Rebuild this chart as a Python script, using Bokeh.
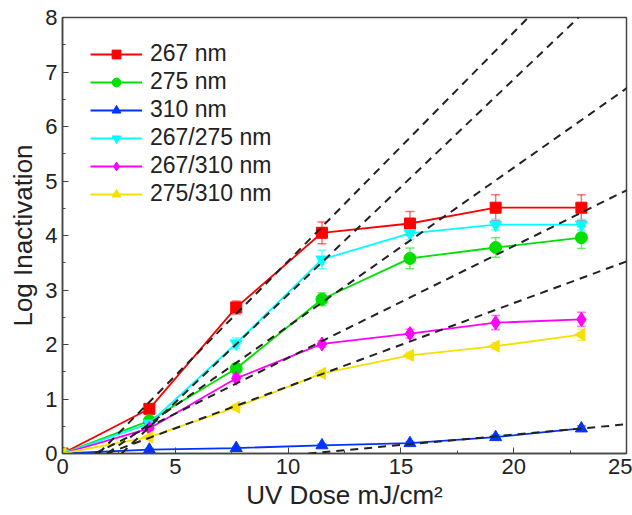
import numpy as np
from bokeh.plotting import figure
from bokeh.models import (Range1d, Slope, Whisker, ColumnDataSource, Legend,
                          LegendItem, TeeHead, FixedTicker)
from bokeh.embed import file_html
from bokeh.resources import INLINE

# ---------------- data ----------------
dose = [0, 3.85, 7.7, 11.5, 15.4, 19.2, 23.0]

labels = ["267 nm", "275 nm", "310 nm", "267/275 nm", "267/310 nm", "275/310 nm"]

li_267 = [0, 0.82, 2.68, 4.05, 4.22, 4.51, 4.51]
li_275 = [0, 0.60, 1.56, 2.83, 3.58, 3.78, 3.96]
li_310 = [0, 0.07, 0.10, 0.15, 0.19, 0.30, 0.46]
li_267_275 = [0, 0.55, 2.02, 3.56, 4.04, 4.20, 4.20]
li_267_310 = [0, 0.46, 1.38, 2.01, 2.20, 2.40, 2.46]
li_275_310 = [0, 0.30, 0.85, 1.47, 1.80, 1.97, 2.18]

err_267 = [0, 0.05, 0.12, 0.20, 0.22, 0.24, 0.24]
err_275 = [0, 0.05, 0.08, 0.12, 0.19, 0.18, 0.20]
err_310 = [0, 0.02, 0.02, 0.03, 0.03, 0.04, 0.05]
err_267_275 = [0, 0.05, 0.10, 0.17, 0.12, 0.10, 0.10]
err_267_310 = [0, 0.04, 0.06, 0.06, 0.08, 0.13, 0.13]
err_275_310 = [0, 0.03, 0.05, 0.05, 0.06, 0.06, 0.10]

# linear fits (slope, x-intercept) drawn as dashed lines
fit_slope = [0.42, 0.291, 0.038, 0.395, 0.205, 0.153]
fit_x0 = [1.60, 1.98, 10.9, 2.62, 1.44, 1.97]

colors = ["#FF0000", "#00E000", "#0033FF", "#00FFFF", "#FF00FF", "#F5E000"]
markers = ["square", "circle", "triangle", "inverted_triangle", "diamond", "triangle"]
angles = [0.0, 0.0, 0.0, 0.0, 0.0, float(np.pi / 2)]
sizes = [11, 12, 12, 12, 14, 12]

values = [li_267, li_275, li_310, li_267_275, li_267_310, li_275_310]
errors = [err_267, err_275, err_310, err_267_275, err_267_310, err_275_310]

FONT = "Liberation Sans"

p = figure(width=632, height=515, output_backend="svg", toolbar_location=None,
           x_range=Range1d(0, 25), y_range=Range1d(0, 8),
           min_border_left=62, min_border_right=6, min_border_top=17,
           min_border_bottom=62)
p.grid.visible = False
p.outline_line_color = "#444444"
p.outline_line_width = 1.5
p.background_fill_color = "white"
p.border_fill_color = "white"

p.xaxis.ticker = FixedTicker(ticks=[0, 5, 10, 15, 20, 25],
                             minor_ticks=list(np.arange(0, 25.01, 2.5)))
p.yaxis.ticker = FixedTicker(ticks=list(range(0, 9)),
                             minor_ticks=list(np.arange(0, 8.01, 0.5)))
for ax in (p.xaxis[0], p.yaxis[0]):
    ax.major_tick_in = 6
    ax.major_tick_out = 0
    ax.minor_tick_in = 3
    ax.minor_tick_out = 0
    ax.axis_line_color = "#444444"
    ax.axis_line_width = 1.5
    ax.major_tick_line_color = "#444444"
    ax.minor_tick_line_color = "#444444"
    ax.major_label_text_font = FONT
    ax.major_label_text_font_size = "22px"
    ax.major_label_text_color = "#222222"
    ax.axis_label_text_font = FONT
    ax.axis_label_text_font_size = "26px"
    ax.axis_label_text_font_style = "normal"
    ax.axis_label_text_color = "#222222"
    ax.major_label_standoff = 5

p.xaxis.axis_label = "UV Dose mJ/cm\u00b2"
p.yaxis.axis_label = "Log Inactivation"
p.xaxis.axis_label_standoff = 3
p.yaxis.axis_label_standoff = 4

items = []
for lab, vals, errs, col, mk, ang, sz in zip(labels, values, errors, colors,
                                             markers, angles, sizes):
    upper = [v + e for v, e in zip(vals, errs)]
    lower = [v - e for v, e in zip(vals, errs)]
    src = ColumnDataSource(dict(x=dose, y=vals, upper=upper, lower=lower,
                                ang=[ang] * len(dose)))
    w = Whisker(base="x", upper="upper", lower="lower", source=src,
                line_color=col, line_alpha=0.55, line_width=1.5,
                upper_head=TeeHead(size=9, line_color=col, line_alpha=0.55, line_width=1.5),
                lower_head=TeeHead(size=9, line_color=col, line_alpha=0.55, line_width=1.5))
    p.add_layout(w)
    ln = p.line("x", "y", source=src, line_color=col, line_width=1.8)
    sc = p.scatter("x", "y", source=src, marker=mk, size=sz, angle="ang",
                   fill_color=col, line_color=col)
    items.append(LegendItem(label=lab, renderers=[ln, sc], index=0))

for s, x0 in zip(fit_slope, fit_x0):
    p.add_layout(Slope(gradient=s, y_intercept=-s * x0, line_color="#222222",
                       line_width=2, line_dash="8 6"))

legend = Legend(items=items, location=(28, 246), margin=0, padding=0,
                border_line_color=None, background_fill_alpha=0,
                glyph_width=52, glyph_height=22, label_height=22,
                spacing=1, label_standoff=8,
                label_text_font=FONT, label_text_font_size="23px",
                label_text_color="#222222")
p.add_layout(legend)

open("out.html", "w").write(file_html(p, INLINE))
